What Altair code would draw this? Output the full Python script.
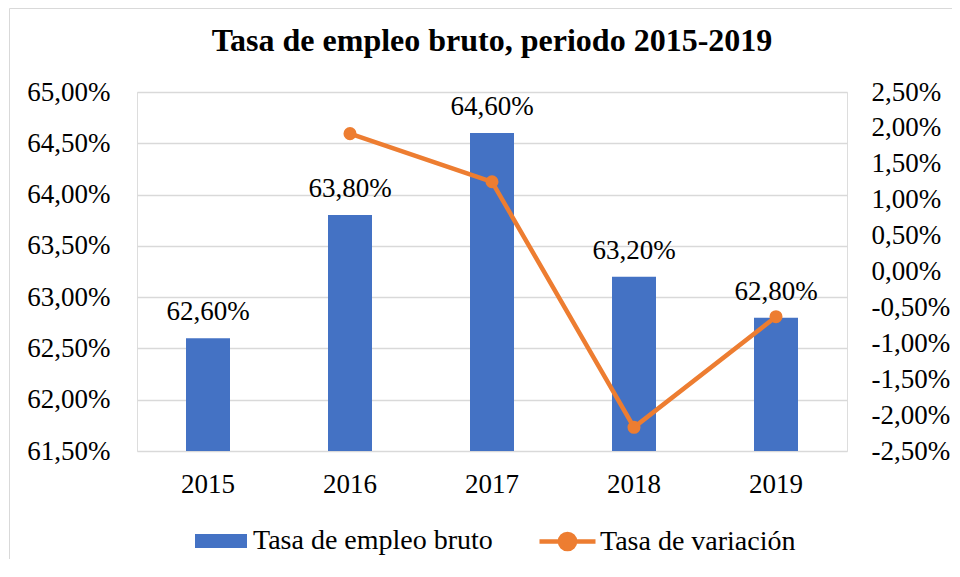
import altair as alt
import pandas as pd

# ---- data ----
years = ["2015", "2016", "2017", "2018", "2019"]
empleo = [62.60, 63.80, 64.60, 63.20, 62.80]          # Tasa de empleo bruto (%)
variacion = [None, 1.92, 1.25, -2.17, -0.63]          # Tasa de variación (%)
left_ticks = [61.5, 62.0, 62.5, 63.0, 63.5, 64.0, 64.5, 65.0]
right_ticks = [-2.5, -2.0, -1.5, -1.0, -0.5, 0.0, 0.5, 1.0, 1.5, 2.0, 2.5]
serie_bar = "Tasa de empleo bruto"
serie_line = "Tasa de variación"
title_text = "Tasa de empleo bruto, periodo 2015-2019"

df = pd.DataFrame({"anio": years, "empleo": empleo, "variacion": variacion})

FONT = "Liberation Serif"
BLUE = "#4472C4"
ORANGE = "#ED7D31"
GRID = "#D9D9D9"
FS = 27
LFS = 28
W, H = 710, 359

FMT = "replace(replace(format(datum.value, '.2f'), '.', ','), '\u2212', '-') + '%'"

BAR_SYM = "M-1,-0.27H1V0.27H-1Z"
LINE_SYM = "M-1,0H1M0.27,0A0.27,0.27,0,1,1,-0.27,0A0.27,0.27,0,1,1,0.27,0Z"

x_enc = alt.X(
    "anio:N",
    sort=years,
    scale=alt.Scale(paddingInner=0, paddingOuter=0),
    axis=alt.Axis(title=None, labelAngle=0, domain=False, ticks=False,
                  labelPadding=20, labelFont=FONT, labelFontSize=FS, labelColor="#000"),
)

base = alt.Chart(df)

frame = alt.Chart(alt.Data(values=[{}])).mark_rect(
    fill=None, stroke=GRID, strokeWidth=1
).encode(
    x=alt.value(-127.5), x2=alt.value(W + 300),
    y=alt.value(-83.5), y2=alt.value(H + 400),
)

bars = base.transform_calculate(serie=f"'{serie_bar}'").mark_bar(size=44).encode(
    x=x_enc,
    y=alt.Y("empleo:Q",
            scale=alt.Scale(domain=[61.5, 65.0], zero=False, nice=False),
            axis=alt.Axis(title=None, values=left_ticks, labelExpr=FMT, orient="left",
                          domain=False, ticks=False, grid=True, gridColor=GRID, gridWidth=1.5,
                          labelPadding=27, labelFont=FONT, labelFontSize=FS, labelColor="#000")),
    y2=alt.datum(61.5),
    color=alt.Color("serie:N",
                    scale=alt.Scale(domain=[serie_bar], range=[BLUE]),
                    legend=alt.Legend(orient="none", legendX=58, legendY=423, title=None,
                                      symbolType=BAR_SYM, symbolSize=2704, labelOffset=6,
                                      symbolStrokeWidth=0, padding=0, labelLimit=500,
                                      labelFont=FONT, labelFontSize=LFS, labelColor="#000")),
)

labels = base.transform_calculate(
    lab="replace(format(datum.empleo, '.2f'), '.', ',') + '%'"
).mark_text(baseline="bottom", dy=-12, font=FONT, fontSize=FS, color="#000").encode(
    x=alt.X("anio:N", sort=years),
    y=alt.Y("empleo:Q"),
    text="lab:N",
)

bar_layer = alt.layer(bars, labels)

line_base = base.transform_filter("isValid(datum.variacion)").transform_calculate(
    serie=f"'{serie_line}'")

line_color = alt.Color("serie:N",
                       scale=alt.Scale(domain=[serie_line], range=[ORANGE]),
                       legend=alt.Legend(orient="none", legendX=400, legendY=419, title=None,
                                         symbolType=LINE_SYM, symbolSize=3136, labelOffset=2,
                                         symbolStrokeWidth=4.5, symbolFillColor=ORANGE,
                                         symbolStrokeColor=ORANGE, padding=0, labelLimit=500,
                                         labelFont=FONT, labelFontSize=LFS, labelColor="#000"))

y_right = alt.Y("variacion:Q",
                scale=alt.Scale(domain=[-2.5, 2.5], nice=False, zero=False),
                axis=alt.Axis(title=None, values=right_ticks, labelExpr=FMT, orient="right",
                              domain=False, ticks=False, grid=False,
                              labelPadding=24, labelFont=FONT, labelFontSize=FS, labelColor="#000"))

line = line_base.mark_line(strokeWidth=4.5).encode(
    x=alt.X("anio:N", sort=years), y=y_right, color=line_color)
points = line_base.mark_point(filled=True, size=170, opacity=1).encode(
    x=alt.X("anio:N", sort=years), y=y_right, color=line_color)

line_layer = alt.layer(line, points)

chart = alt.layer(frame, bar_layer, line_layer).resolve_scale(
    y="independent", color="independent"
).properties(
    width=W, height=H,
    title=alt.TitleParams(title_text, font=FONT, fontSize=32, fontWeight="bold",
                          color="#000", anchor="middle", offset=-50),
    autosize=alt.AutoSizeParams(type="none"),
    padding={"left": 129, "top": 84, "right": 105, "bottom": 108},
).configure_view(stroke=None).configure(background="white")

chart.save("out.html", embed_options={"renderer": "svg", "actions": False})
